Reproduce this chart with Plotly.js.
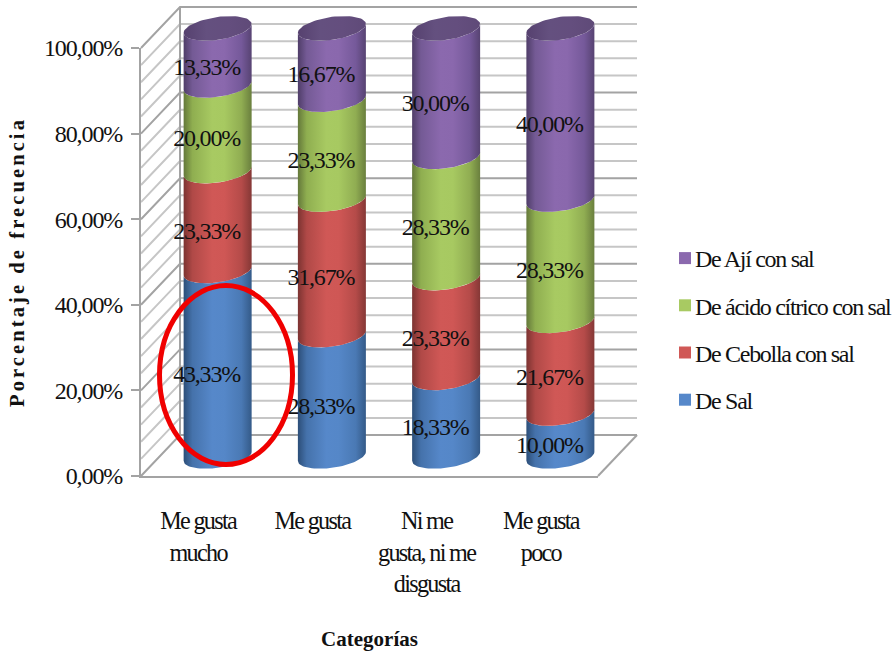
<!DOCTYPE html>
<html>
<head>
<meta charset="utf-8">
<script src="https://cdn.plot.ly/plotly-3.0.1.min.js"></script>
<style>
html,body{margin:0;padding:0;background:#fff}
#chart{width:893px;height:655px}
/* The box walls and cylinder caps reach past the front axes. */
#chart .scatterlayer *{clip-path:none !important}
/* Tighter swatch-to-text gap and a wider spaced vertical title. */
#chart .legendsymbols{transform:translateX(10px)}
#chart .ytitle{letter-spacing:3.1px}
/* Tall, narrow lettering for the serif labels. */
#chart .xtick text{letter-spacing:-1.7px}
#chart .ytick text{letter-spacing:-1.1px}
#chart .legendtext{letter-spacing:-1.3px}
#chart .textpoint text{letter-spacing:-1.2px}
</style>
</head>
<body>
<div id="chart"></div>
<script>
// Survey results: preference per category, stacked by seasoning.
const categories = ['Me gusta mucho', 'Me gusta', 'Ni me gusta, ni me disgusta', 'Me gusta poco'];
const categoryLines = [['Me gusta', 'mucho'], ['Me gusta'], ['Ni me', 'gusta, ni me', 'disgusta'], ['Me gusta', 'poco']];
const seriesNames = ['De Sal', 'De Cebolla con sal', 'De ácido cítrico con sal', 'De Ají con sal'];
const deSal = [43.33, 28.33, 18.33, 10.00];
const deCebolla = [23.33, 31.67, 23.33, 21.67];
const deAcido = [20.00, 23.33, 28.33, 28.33];
const deAji = [13.33, 16.67, 30.00, 40.00];
const seriesValues = [deSal, deCebolla, deAcido, deAji];
const valueTicks = [0, 20, 40, 60, 80, 100];
const wallTicks = [0, 4, 8, 12, 16, 20, 24, 28, 32, 36, 40, 44, 48, 52, 56, 60, 64, 68, 72, 76, 80, 84, 88, 92, 96, 100];

// Cylinder shading, dark rim to bright centre, one palette per series.
const shades = [
  ['#2c4e78', '#4572ab', '#5688ca', '#5587c8', '#4a79b4', '#345a88'],
  ['#7c3331', '#b04947', '#d05856', '#cf5755', '#b54b49', '#853836'],
  ['#64783a', '#8fae50', '#a8ca62', '#a7c961', '#90ad52', '#6a7f3e'],
  ['#4f3d68', '#745a95', '#8b69ae', '#8a68ad', '#75599a', '#574372']
];
const capShades = ['#56416f', '#64507f', '#644e7e', '#5f4a78'];
const stops = [0, 0.13, 0.42, 0.6, 0.85, 1];

// Conversions between the oblique 3D look and the axis units.
const pxPerCat = 114.25, pxPerPct = 4.28;
const depthX = 39 / pxPerCat, depthY = 41 / pxPerPct;
const radiusX = 34 / pxPerCat, radiusY = 11.5 / pxPerPct, tilt = 4.5 / pxPerPct;
const midX = 0.5 * depthX, midY = 0.5 * depthY - 0.2;
const arcSteps = Array.from({length: 41}, (_, i) => i / 40);

function gradient(colors) {
  return {type: 'horizontal', colorscale: stops.map((s, i) => [s, colors[i]])};
}
// Front half of the slanted ring at height v, walked from left to right.
function frontArc(cat, v) {
  const cx = cat + midX, cy = v + midY;
  return arcSteps.map(f => {
    const t = Math.PI * (1 - f);
    return [cx + radiusX * Math.cos(t), cy + tilt * Math.cos(t) - radiusY * Math.sin(t)];
  });
}
function backArc(cat, v) {
  const cx = cat + midX, cy = v + midY;
  return arcSteps.map(f => {
    const t = -Math.PI * f;
    return [cx + radiusX * Math.cos(t), cy + tilt * Math.cos(t) - radiusY * Math.sin(t)];
  });
}

const traces = [];

// Walls and floor of the chart box.
function wallLines(ticks, color, name) {
  const x = [], y = [];
  ticks.forEach(v => {
    x.push(-0.5, -0.5 + depthX, 3.5 + depthX, null);
    y.push(v, v + depthY, v + depthY, null);
  });
  traces.push({type: 'scatter', mode: 'lines', name, x, y, cliponaxis: false, showlegend: false,
    hoverinfo: 'skip', line: {color, width: 2}});
}
wallLines(wallTicks.filter(v => !valueTicks.includes(v)), '#c6c6c6', 'rejilla menor');
wallLines(valueTicks, '#a3a3a3', 'rejilla mayor');
traces.push({type: 'scatter', mode: 'lines', name: 'suelo', cliponaxis: false, showlegend: false, hoverinfo: 'skip',
  x: [3.5, 3.5 + depthX, null, -0.5 + depthX, -0.5 + depthX],
  y: [0, depthY, null, depthY, 100 + depthY],
  line: {color: '#a3a3a3', width: 2}});

// Cylinder bands, bottom to top in each column.
const labelX = [], labelY = [], labelText = [];
categories.forEach((cat, c) => {
  let base = 0;
  seriesValues.forEach((vals, s) => {
    const top = base + vals[c];
    const pts = frontArc(c, base).concat(frontArc(c, top).reverse());
    pts.push(pts[0]);
    traces.push({type: 'scatter', mode: 'lines', name: seriesNames[s] + ' - ' + cat,
      x: pts.map(p => p[0]), y: pts.map(p => p[1]), cliponaxis: false, showlegend: false,
      hoverinfo: 'skip', line: {width: 0, color: 'rgba(0,0,0,0)'}, fill: 'toself',
      fillcolor: shades[s][2], fillgradient: gradient(shades[s])});
    labelX.push(c + midX - 11 / pxPerCat);
    labelY.push((base + top) / 2 + midY - 12 / pxPerPct);
    labelText.push(vals[c].toFixed(2).replace('.', ',') + '%');
    base = top;
  });
  // Closed top of the cylinder.
  const cap = frontArc(c, base).concat(backArc(c, base));
  traces.push({type: 'scatter', mode: 'lines', name: 'tapa - ' + cat,
    x: cap.map(p => p[0]), y: cap.map(p => p[1]), cliponaxis: false, showlegend: false, hoverinfo: 'skip',
    line: {width: 0, color: 'rgba(0,0,0,0)'}, fill: 'toself', fillcolor: capShades[1],
    fillgradient: {type: 'horizontal', colorscale: capShades.map((col, i) => [i / 3, col])}});
});

// Value labels on the cylinders.
traces.push({type: 'scatter', mode: 'text', name: 'valores', x: labelX, y: labelY, text: labelText,
  cliponaxis: false, showlegend: false, hoverinfo: 'skip', textposition: 'middle center',
  textfont: {family: 'Liberation Serif', size: 24, color: '#111'}});

// Legend entries, square swatches in top-down reverse order.
seriesNames.forEach((name, s) => {
  traces.push({type: 'scatter', mode: 'markers', name, x: [null], y: [null], legendgroup: name,
    cliponaxis: false, legendrank: 10 - s, marker: {symbol: 'square', size: 12, color: shades[s][2]}});
});

const layout = {
  width: 893, height: 655,
  margin: {l: 141, r: 295, t: 48, b: 179, pad: 0},
  paper_bgcolor: '#fff', plot_bgcolor: 'rgba(0,0,0,0)',
  showlegend: true,
  legend: {xref: 'container', yref: 'container', x: 655 / 893, y: 1 - 236 / 655, xanchor: 'left', yanchor: 'top',
    traceorder: 'grouped', tracegroupgap: 13, bgcolor: 'rgba(0,0,0,0)',
    font: {family: 'Liberation Serif', size: 24, color: '#111'}},
  xaxis: {
    range: [-0.5, 3.5], tickmode: 'array', tickvals: [0, 1, 2, 3],
    ticktext: categoryLines.map(l => l.join('<br>')),
    tickfont: {family: 'Liberation Serif', size: 24.2, color: '#111'},
    showgrid: false, zeroline: false, showline: true, linecolor: '#a3a3a3', linewidth: 2,
    ticks: '', ticklabelstandoff: 22,
    title: {text: 'Categorías', standoff: 35, font: {family: 'Liberation Serif', size: 21, color: '#111', weight: 'bold'}}
  },
  yaxis: {
    range: [0, 100], tickmode: 'array', tickvals: valueTicks,
    ticktext: valueTicks.map(v => v.toFixed(2).replace('.', ',') + '%'),
    tickfont: {family: 'Liberation Serif', size: 24, color: '#111'},
    showgrid: false, zeroline: false, showline: true, linecolor: '#a3a3a3', linewidth: 2,
    ticks: 'outside', ticklen: 8, tickwidth: 2, tickcolor: '#a3a3a3', ticklabelstandoff: 4,
    title: {text: 'Porcentaje de frecuencia', standoff: 6, font: {family: 'Liberation Serif', size: 20.5, color: '#111', weight: 'bold'}}
  },
  // Red ring singling out the leading answer.
  shapes: [{type: 'circle', xref: 'x', yref: 'y', layer: 'above',
    x0: (159.5 - 141) / pxPerCat - 0.5, x1: (292.5 - 141) / pxPerCat - 0.5,
    y0: (476 - 464.5) / pxPerPct, y1: (476 - 285.5) / pxPerPct,
    line: {color: '#f00000', width: 5}}]
};

Plotly.newPlot('chart', traces, layout, {displayModeBar: false, responsive: false});
</script>
</body>
</html>
